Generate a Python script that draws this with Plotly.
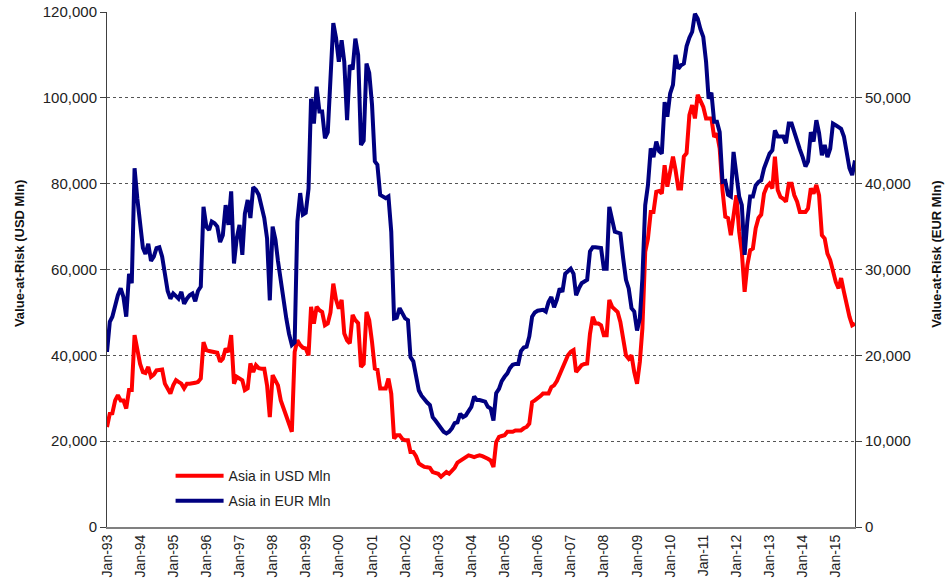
import pandas as pd
import plotly.graph_objects as go

# Monthly observations, Jan-1993 .. Aug-2015 (values in thousands of Mln)
start_month = "1993-01-01"

usd_k = [
    23.3, 26.4, 26.5, 29.5, 30.7, 29.5, 29.5, 27.6, 31.9, 31.9, 44.7, 40.8,   # 1993
    38.0, 36.1, 35.9, 37.3, 35.0, 35.5, 36.5, 36.6, 36.7, 33.4, 32.0, 31.1,   # 1994
    33.0, 34.2, 33.8, 33.4, 32.3, 33.4, 33.4, 33.4, 33.6, 33.8, 34.6, 43.1,   # 1995
    41.2, 41.0, 40.8, 40.6, 40.6, 38.5, 39.2, 41.6, 40.8, 44.7, 33.4, 35.0,   # 1996
    34.6, 34.2, 31.9, 32.3, 38.1, 36.1, 37.7, 37.0, 36.9, 36.9, 33.0, 25.6,   # 1997
    35.4, 34.0, 33.0, 29.5, 27.6, 25.6, 23.5, 22.2, 40.8, 43.5, 42.4, 41.8,   # 1998
    41.6, 40.0, 51.3, 47.4, 51.3, 50.5, 50.1, 47.0, 47.4, 50.0, 56.7, 53.0,   # 1999
    50.9, 52.9, 45.1, 43.5, 42.8, 49.4, 48.2, 47.5, 37.3, 38.0, 50.1, 48.2,   # 2000
    43.1, 36.9, 36.7, 32.3, 32.3, 32.3, 34.6, 31.1, 20.6, 21.4, 21.4, 20.5,   # 2001
    20.2, 20.2, 17.5, 17.5, 16.5, 14.8, 14.4, 14.0, 13.9, 13.8, 12.8, 12.6,   # 2002
    12.4, 11.7, 12.2, 12.8, 12.4, 13.0, 13.8, 15.0, 15.5, 15.9, 16.2, 16.7,   # 2003
    16.5, 16.3, 16.5, 16.7, 16.5, 16.3, 15.9, 15.5, 14.0, 19.8, 21.0, 21.2,   # 2004
    21.4, 22.2, 22.2, 22.2, 22.5, 22.5, 22.5, 23.0, 23.3, 24.1, 29.1, 29.5,   # 2005
    29.9, 30.5, 31.1, 31.1, 31.1, 32.6, 33.0, 34.0, 35.4, 37.0, 38.5, 40.0,   # 2006
    40.8, 41.2, 36.1, 37.0, 37.7, 38.0, 38.1, 45.0, 49.0, 47.4, 47.4, 47.0,   # 2007
    44.7, 44.7, 52.9, 51.3, 50.8, 50.1, 47.8, 43.1, 40.0, 39.2, 40.0, 36.1,   # 2008
    33.4, 38.5, 46.3, 64.1, 67.2, 73.4, 73.4, 78.1, 78.3, 77.7, 84.3, 79.3,   # 2009
    82.8, 86.3, 83.2, 78.9, 78.9, 86.3, 87.1, 96.0, 98.3, 95.2, 100.7, 99.1,  # 2010
    97.9, 95.2, 95.2, 95.2, 90.9, 91.7, 88.2, 78.5, 72.3, 72.0, 68.0, 73.4,   # 2011
    77.3, 68.8, 64.1, 54.8, 61.0, 64.5, 64.9, 69.6, 72.0, 72.8, 77.7, 79.3,   # 2012
    80.0, 78.9, 86.3, 78.5, 76.9, 76.5, 75.8, 80.0, 80.0, 77.3, 75.8, 73.4,   # 2013
    73.4, 73.4, 74.2, 78.9, 77.7, 79.7, 77.3, 68.0, 67.2, 63.7, 62.2, 59.5,   # 2014
    57.1, 55.6, 58.0, 54.8, 51.7, 49.0, 47.0, 47.4,                           # 2015
]

eur_k = [
    20.4, 23.9, 24.5, 26.0, 27.0, 27.8, 26.8, 24.5, 29.5, 28.4, 41.8, 38.3,   # 1993
    35.5, 32.5, 31.8, 33.0, 31.0, 31.5, 32.5, 32.6, 31.5, 29.5, 27.5, 26.6,   # 1994
    27.2, 26.9, 26.6, 27.4, 26.0, 26.6, 27.0, 27.2, 26.3, 27.5, 28.0, 37.3,   # 1995
    35.0, 34.6, 35.6, 35.4, 35.0, 33.2, 34.0, 37.5, 35.2, 39.1, 30.7, 33.6,   # 1996
    35.2, 31.7, 36.5, 38.1, 36.0, 39.6, 39.3, 38.7, 37.5, 36.0, 33.6, 26.4,   # 1997
    35.0, 33.5, 31.0, 28.5, 26.0, 24.3, 22.5, 21.2, 21.5, 35.6, 38.9, 36.4,   # 1998
    36.6, 39.4, 49.9, 47.0, 51.3, 48.4, 48.4, 45.3, 46.0, 52.0, 58.7, 57.0,   # 1999
    54.2, 56.7, 54.2, 47.4, 53.8, 53.3, 56.9, 55.0, 44.5, 45.0, 54.0, 52.9,   # 2000
    49.2, 42.6, 42.2, 38.7, 38.5, 38.3, 38.5, 34.4, 24.3, 24.4, 25.5, 25.0,   # 2001
    24.3, 24.1, 19.8, 19.3, 17.5, 15.9, 15.3, 14.8, 14.5, 14.2, 12.8, 12.4,   # 2002
    11.9, 11.5, 11.1, 10.9, 11.1, 11.5, 12.1, 12.2, 13.2, 12.8, 13.0, 13.5,   # 2003
    14.0, 15.2, 14.8, 14.8, 14.7, 14.6, 14.0, 13.8, 12.4, 15.6, 16.1, 17.0,   # 2004
    17.5, 17.9, 18.5, 18.9, 19.0, 19.0, 20.5, 20.9, 21.0, 22.2, 24.5, 25.0,   # 2005
    25.2, 25.3, 25.3, 25.1, 26.2, 26.8, 25.6, 26.5, 27.8, 27.4, 29.5, 29.8,   # 2006
    30.1, 29.5, 27.0, 27.8, 28.4, 28.6, 28.8, 32.1, 32.6, 32.6, 32.5, 32.5,   # 2007
    30.1, 30.1, 37.3, 36.0, 34.4, 34.3, 34.2, 31.3, 28.8, 27.8, 25.5, 25.1,   # 2008
    22.9, 24.3, 29.0, 37.5, 39.8, 44.1, 43.1, 44.9, 43.8, 43.5, 49.5, 47.8,   # 2009
    50.5, 51.5, 55.0, 53.4, 53.8, 54.0, 56.0, 57.0, 57.7, 59.8, 59.2, 58.0,   # 2010
    57.1, 54.2, 49.9, 50.6, 47.2, 47.2, 46.0, 40.2, 40.3, 38.7, 38.5, 43.7,   # 2011
    41.0, 38.5, 37.5, 31.7, 35.6, 38.5, 38.5, 39.8, 40.2, 40.4, 41.8, 42.5,   # 2012
    43.5, 43.9, 46.2, 45.5, 45.5, 45.5, 44.7, 47.0, 47.0, 45.9, 45.0, 44.0,   # 2013
    43.1, 42.0, 42.6, 46.0, 44.9, 47.4, 45.9, 43.3, 44.5, 43.1, 44.1, 47.0,   # 2014
    46.8, 46.6, 46.4, 45.5, 43.7, 41.8, 41.0, 42.7,                           # 2015
]

usd_name = "Asia in USD Mln"
eur_name = "Asia in EUR Mln"
left_title = "Value-at-Risk (USD Mln)"
right_title = "Value-at-Risk (EUR Mln)"
left_ticks = [0, 20000, 40000, 60000, 80000, 100000, 120000]
right_ticks = [0, 10000, 20000, 30000, 40000, 50000]
year_ticks = pd.date_range("1993-01-01", "2015-01-01", freq="YS")

dates = pd.date_range(start_month, periods=len(usd_k), freq="MS")
usd = [v * 1000 for v in usd_k]
eur = [v * 1000 for v in eur_k]

FONT = "Arial, 'Liberation Sans', sans-serif"

fig = go.Figure()
fig.add_trace(go.Scatter(x=dates, y=usd, name=usd_name, mode="lines",
                         line=dict(color="#FF0000", width=4), legendgroup="a"))
fig.add_trace(go.Scatter(x=dates, y=eur, name=eur_name, mode="lines",
                         line=dict(color="#000080", width=4), yaxis="y2", legendgroup="b"))

fig.update_layout(
    width=946, height=584,
    margin=dict(l=107, r=91, t=12, b=57, autoexpand=False),
    paper_bgcolor="white", plot_bgcolor="white",
    font=dict(family=FONT, size=14, color="#222"),
    showlegend=True,
    legend=dict(x=0.085, y=0.13, xanchor="left", yanchor="top",
                bgcolor="rgba(0,0,0,0)", font=dict(size=14, color="#222"),
                tracegroupgap=4, itemwidth=48),
    xaxis=dict(
        type="date", automargin=False,
        range=[dates[0], dates[-1]],
        tickvals=list(year_ticks), tickformat="%b-%y", tickangle=-90,
        showgrid=False, zeroline=False,
        showline=True, linecolor="#808080", linewidth=2,
        ticks="", tickfont=dict(size=14, color="#222"),
    ),
    yaxis=dict(
        automargin=False,
        range=[0, 120000], tickvals=left_ticks, tickformat=",",
        showgrid=True, gridcolor="#555", griddash="dot", gridwidth=1,
        zeroline=False, showline=True, linecolor="#404040", linewidth=1,
        ticks="outside", ticklen=6, tickcolor="#404040",
        tickfont=dict(size=15, color="#222"),
    ),
    yaxis2=dict(
        automargin=False,
        overlaying="y", side="right",
        range=[0, 60000], tickvals=right_ticks, tickformat=",",
        showgrid=False, zeroline=False,
        showline=True, linecolor="#404040", linewidth=1,
        ticks="outside", ticklen=6, tickcolor="#404040",
        tickfont=dict(size=15, color="#222"),
    ),
    annotations=[
        dict(text="<b>" + left_title + "</b>", xref="paper", yref="paper",
             x=-0.1176, y=0.53, xanchor="center", yanchor="middle",
             textangle=-90, showarrow=False, font=dict(size=13, color="#111")),
        dict(text="<b>" + right_title + "</b>", xref="paper", yref="paper",
             x=1.108, y=0.53, xanchor="center", yanchor="middle",
             textangle=-90, showarrow=False, font=dict(size=13, color="#111")),
    ],
)

fig.write_html("out.html", config={"displayModeBar": False},
               post_script="document.body.style.margin='0px';")
